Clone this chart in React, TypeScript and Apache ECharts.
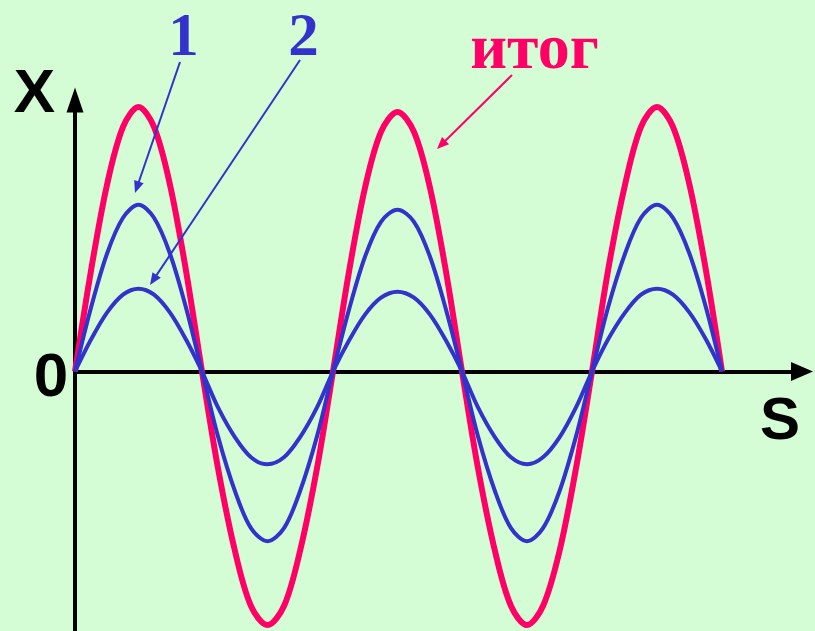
import React, { useEffect, useRef } from "react";
import * as echarts from "echarts";

// Path coordinate s (shared by all three curves)
const sValues = [
  0, 1.6, 3.2, 4.8, 6.35, 7.9, 9.5, 11.1, 12.7,
  14.3, 16.0, 17.6, 19.25, 20.9, 22.5, 24.2, 25.8,
  27.4, 29.0, 30.6, 32.25, 33.9, 35.5, 37.1, 38.7,
  40.3, 42.0, 43.6, 45.2, 46.8, 48.45, 50.1, 51.7,
  53.3, 55.0, 56.6, 58.2, 59.8, 61.45, 63.1, 64.7,
];

// Resulting oscillation ("итог")
const totalX = [
  0, 1.01, 1.87, 2.45, 2.65, 2.45, 1.87, 1.01, 0,
  -0.97, -1.8, -2.35, -2.54, -2.35, -1.8, -0.97, 0,
  1.0, 1.84, 2.4, 2.6, 2.4, 1.84, 1.0, 0,
  -0.97, -1.8, -2.35, -2.54, -2.35, -1.8, -0.97, 0,
  1.01, 1.87, 2.45, 2.65, 2.45, 1.87, 1.01, 0,
];

// Oscillation 1
const wave1X = [
  0, 0.64, 1.18, 1.54, 1.67, 1.54, 1.18, 0.64, 0,
  -0.65, -1.2, -1.57, -1.7, -1.57, -1.2, -0.65, 0,
  0.62, 1.15, 1.5, 1.62, 1.5, 1.15, 0.62, 0,
  -0.65, -1.2, -1.57, -1.7, -1.57, -1.2, -0.65, 0,
  0.64, 1.18, 1.54, 1.67, 1.54, 1.18, 0.64, 0,
];

// Oscillation 2
const wave2X = [
  0, 0.32, 0.59, 0.77, 0.83, 0.77, 0.59, 0.32, 0,
  -0.36, -0.66, -0.86, -0.93, -0.86, -0.66, -0.36, 0,
  0.31, 0.57, 0.74, 0.8, 0.74, 0.57, 0.31, 0,
  -0.36, -0.66, -0.86, -0.93, -0.86, -0.66, -0.36, 0,
  0.32, 0.59, 0.77, 0.83, 0.77, 0.59, 0.32, 0,
];

const labels = { x: "X", zero: "0", s: "S", one: "1", two: "2", total: "итог" };

const BG = "#d5fdd5";
const PINK = "#ff0066";
const BLUE = "#3333cc";

function arrow(x1: number, y1: number, x2: number, y2: number, color: string) {
  const dx = x2 - x1;
  const dy = y2 - y1;
  const len = Math.sqrt(dx * dx + dy * dy);
  const ux = dx / len;
  const uy = dy / len;
  const hl = 12;
  const hw = 5;
  const bx = x2 - ux * hl;
  const by = y2 - uy * hl;
  return [
    {
      type: "line",
      z: 100,
      shape: { x1, y1, x2: bx + ux * 2, y2: by + uy * 2 },
      style: { stroke: color, lineWidth: 2 },
    },
    {
      type: "polygon",
      z: 100,
      shape: {
        points: [
          [x2, y2],
          [bx - uy * hw, by + ux * hw],
          [bx + uy * hw, by - ux * hw],
        ],
      },
      style: { fill: color },
    },
  ];
}

// baseline: y of the glyph baseline; text is centred on x
function txt(text: string, x: number, baseline: number, size: number, color: string, family: string) {
  return {
    type: "text",
    z: 100,
    style: {
      text,
      x,
      y: baseline - 0.34 * size,
      fill: color,
      fontSize: size,
      fontWeight: "bold",
      fontFamily: family,
      lineHeight: Math.round(size * 0.78),
      align: "center",
      verticalAlign: "middle",
    },
  };
}

export default function App() {
  const ref = useRef<HTMLDivElement>(null);
  useEffect(() => {
    if (!ref.current) return;
    const chart = echarts.init(ref.current, undefined, { renderer: "svg" });
    const zip = (ys: number[]) => sValues.map((s, i) => [s, ys[i]]);
    const sans = "'Liberation Sans', Arial, sans-serif";
    const serif = "'Liberation Serif', 'Times New Roman', serif";
    chart.setOption({
      animation: false,
      backgroundColor: BG,
      grid: { left: 75, top: 100, width: 727, height: 532 },
      xAxis: {
        type: "value",
        min: 0,
        max: 72.7,
        axisLine: {
          show: true,
          onZero: true,
          symbol: ["none", "triangle"],
          symbolSize: [19, 22],
          lineStyle: { color: "#000", width: 4 },
        },
        axisTick: { show: false },
        axisLabel: { show: false },
        splitLine: { show: false },
      },
      yAxis: {
        type: "value",
        min: -2.6,
        max: 2.72,
        axisLine: {
          show: true,
          symbol: ["none", "triangle"],
          symbolSize: [17, 25],
          lineStyle: { color: "#000", width: 4 },
        },
        axisTick: { show: false },
        axisLabel: { show: false },
        splitLine: { show: false },
      },
      series: [
        {
          name: labels.total,
          type: "line",
          data: zip(totalX),
          smooth: 0.33,
          showSymbol: false,
          lineStyle: { color: PINK, width: 6 },
          z: 2,
        },
        {
          name: labels.one,
          type: "line",
          data: zip(wave1X),
          smooth: 0.33,
          showSymbol: false,
          lineStyle: { color: BLUE, width: 4 },
          z: 3,
        },
        {
          name: labels.two,
          type: "line",
          data: zip(wave2X),
          smooth: 0.33,
          showSymbol: false,
          lineStyle: { color: BLUE, width: 4 },
          z: 3,
        },
      ],
      graphic: [
        txt(labels.x, 34.5, 112, 62, "#000", sans),
        txt(labels.zero, 51, 396, 62, "#000", sans),
        txt(labels.s, 780, 439, 60, "#000", sans),
        txt(labels.one, 183.5, 55, 61, BLUE, serif),
        txt(labels.two, 303.5, 55, 61, BLUE, serif),
        txt(labels.total, 534.5, 68, 64, PINK, serif),
        ...arrow(180, 62, 135, 193, BLUE),
        ...arrow(300, 60, 150, 285, BLUE),
        ...arrow(512, 75, 437, 149, PINK),
      ],
    });
    return () => chart.dispose();
  }, []);
  return (
    <div
      ref={ref}
      style={{ position: "fixed", left: 0, top: 0, width: 815, height: 631, background: BG }}
    />
  );
}
